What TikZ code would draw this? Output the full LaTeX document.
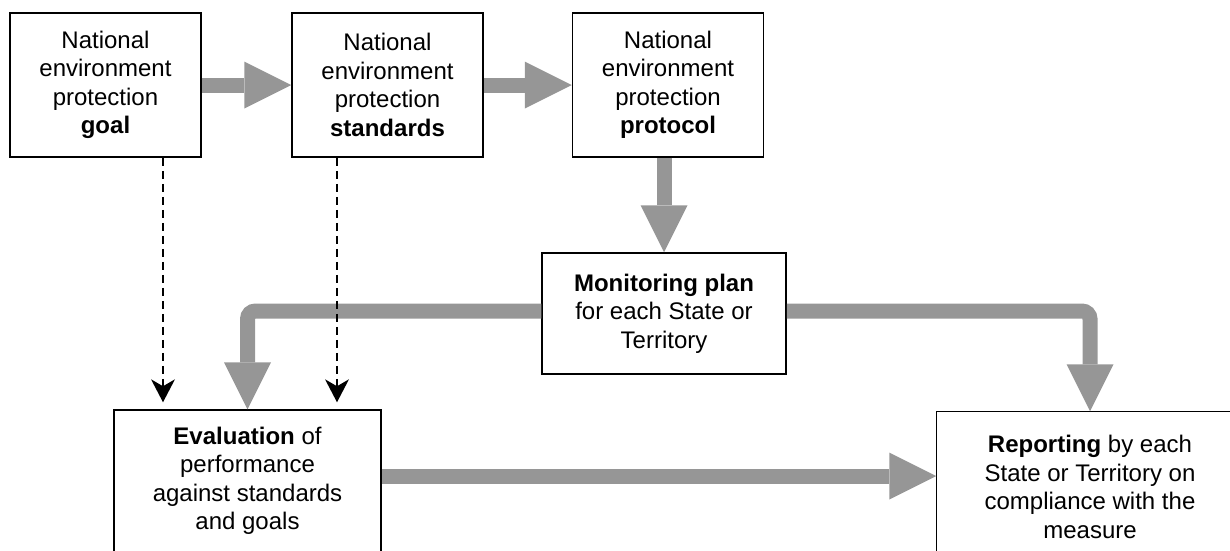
\documentclass[tikz,border=0pt]{standalone}
\usepackage{fontspec}
\setmainfont{Liberation Sans}
\usetikzlibrary{positioning,arrows.meta}
\definecolor{flowgray}{RGB}{150,150,150}
\tikzset{
  stepbox/.style={draw,line width=1.5pt,align=center,inner sep=0pt,
    font=\fontsize{24}{28.5}\selectfont},
  flow/.style={draw=flowgray,line width=15pt,
    -{Triangle[width=47pt,length=47pt,line width=0pt]}},
  link/.style={line width=2pt,dash pattern=on 8pt off 5pt,shorten >=7pt,
    -{Stealth[length=23pt,width=24pt,inset=7pt,line width=0pt]}}
}

\begin{document}
\begin{tikzpicture}[x=1pt,y=-1pt]
  \useasboundingbox (0,0) rectangle (1230,550);
  \clip (0,0) rectangle (1230,550);
  % top row
  \node[stepbox,minimum width=191pt,minimum height=144pt] (goal) at (105.5,85)
    {National\\environment\\protection\\\textbf{goal}};
  \node[stepbox,minimum width=191pt,minimum height=144pt] (standards) at (387.5,85)
    {National\\environment\\protection\\\textbf{standards}};
  \node[stepbox,minimum width=191pt,minimum height=144pt] (protocol) at (668,85)
    {National\\environment\\protection\\\textbf{protocol}};
  % plan
  \node[stepbox,minimum width=244pt,minimum height=121pt] (monitor) at (664,313.5)
    {\textbf{Monitoring plan}\\for each State or\\Territory};
  % bottom row
  \node[stepbox,minimum width=267pt,minimum height=142pt] (eval) at (247.5,481)
    {\textbf{Evaluation} of\\performance\\against standards\\and goals};
  \node[stepbox,draw=none,minimum width=306pt,minimum height=150pt] (report) at (1090,487)
    {\textbf{Reporting} by each\\State or Territory on\\compliance with the\\measure};
  \draw[line width=1.5pt] (report.south west) |- (report.north east);
  % gray flow arrows
  \draw[flow] (goal) -- (standards);
  \draw[flow] (standards) -- (protocol);
  \draw[flow] (monitor.north |- protocol.south) -- (monitor.north);
  \draw[flow,rounded corners=8pt] ([yshift=2.5pt]monitor.west) -| (eval.north);
  \draw[flow,rounded corners=8pt] ([yshift=2.5pt]monitor.east) -| (report.north);
  \draw[flow] ([yshift=5pt]eval.east) -- ([yshift=5pt]eval.east -| report.west);
  % dashed links
  \draw[link] ([xshift=57.5pt]goal.south) -- ([xshift=57.5pt]goal.south |- eval.north);
  \draw[link] ([xshift=-50.5pt]standards.south) -- ([xshift=-50.5pt]standards.south |- eval.north);
\end{tikzpicture}
\end{document}
